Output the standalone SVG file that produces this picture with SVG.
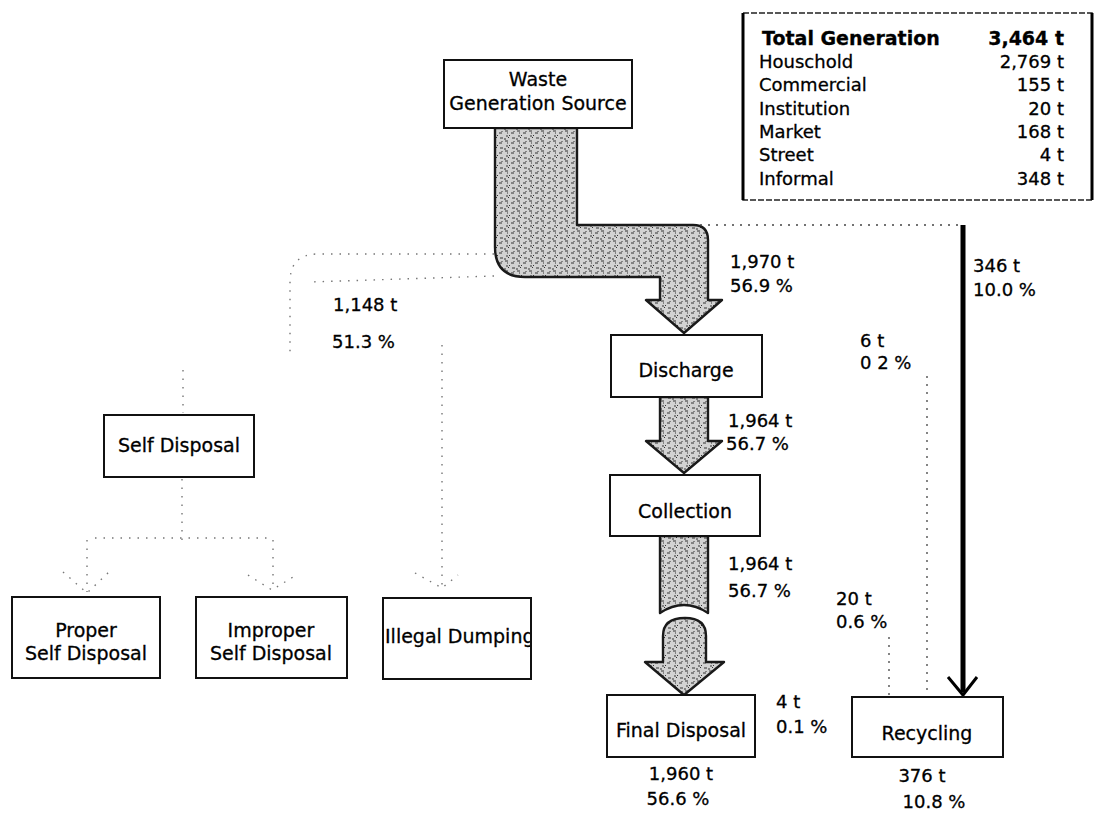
<svg xmlns="http://www.w3.org/2000/svg" width="1098" height="813" viewBox="0 0 1098 813">
<style>
.box{fill:#fff;stroke:#111;stroke-width:2}
.t{font-family:"DejaVu Sans","Liberation Sans",sans-serif;font-size:19px;fill:#000;stroke:#000;stroke-width:0.3}
.lbl{font-family:"DejaVu Sans","Liberation Sans",sans-serif;font-size:18px;fill:#000;stroke:#000;stroke-width:0.3}
.mid{text-anchor:middle}
.end{text-anchor:end}
.flow{fill:url(#stip);stroke:#1a1a1a;stroke-width:2.4;stroke-linejoin:round}
.ghost{fill:none;stroke:#777;stroke-width:1.4;stroke-dasharray:1.5 7}
.dots{fill:none;stroke:#444;stroke-width:1.3;stroke-dasharray:2 6}
</style>
<defs>
<pattern id="stip" width="12" height="10" patternUnits="userSpaceOnUse">
<rect width="12" height="10" fill="#d2d2d2"/>
<path d="M1 1h3M7 3h3M2 6h2M8 8h3M5 5l1 1M10 1v1M0 9h2M4 8l1-1M3 3h1" stroke="#333" stroke-width="1"/>
</pattern>
<clipPath id="clipIll"><rect x="384" y="599" width="146" height="79"/></clipPath>
</defs>

<g id="connectors">
  <!-- main flow: source to discharge -->
  <path class="flow" d="M495 128 L577 128 L577 225 L693 225 Q708 225 708 240 L708 300 L722 300 L684 333 L646 300 L660 300 L660 277 L525 277 Q495 277 495 247 Z"/>
  <!-- discharge to collection -->
  <path class="flow" d="M660 397 L708 397 L708 441 L722 441 L684 473 L646 441 L660 441 Z"/>
  <!-- collection to final disposal (broken) -->
  <path class="flow" d="M660 536 L708 536 L708 613 Q684 597 660 613 Z"/>
  <path class="flow" d="M663 662 L663 636 Q663 618 685 618 Q706 618 706 636 L706 662 L724 662 L684 695 L645 662 Z"/>
  <!-- recycling informal flow -->
  <path class="dots" d="M700 225 L963 225"/>
  <path d="M963 225 L963 692" fill="none" stroke="#000" stroke-width="5"/>
  <path d="M948 677 L963 695 L977 677" fill="none" stroke="#000" stroke-width="3"/>
  <!-- 6 t and 20 t dotted lines -->
  <path class="dots" d="M927 376 L927 697"/>
  <path class="dots" d="M889 637 L889 697"/>
  <!-- ghost flow to self disposal / illegal dumping -->
  <path class="ghost" d="M494 254 L318 254 Q290 254 290 282 L290 356"/>
  <path class="ghost" d="M494 276 L310 282"/>
  <path class="ghost" d="M183 370 L183 413"/>
  <path class="ghost" d="M442 345 L442 588"/>
  <path class="ghost" d="M415 573 L442 588 L458 575"/>
  <!-- self disposal split -->
  <path class="ghost" d="M182 479 L182 540"/>
  <path class="ghost" d="M95 538 L273 538"/>
  <path class="ghost" d="M87 540 L87 592"/>
  <path class="ghost" d="M63 572 L87 593 L110 571"/>
  <path class="ghost" d="M273 540 L273 588"/>
  <path class="ghost" d="M248 575 L272 590 L293 577"/>
</g>

<g id="source">
  <rect class="box" x="444" y="60" width="188" height="68"/>
  <text class="t mid" x="538" y="86">Waste</text>
  <text class="t mid" x="538" y="110">Generation Source</text>
</g>

<g id="totals">
  <rect x="743" y="13" width="349" height="187" fill="#fff" stroke="#222" stroke-width="1.5" stroke-dasharray="6 2"/>
  <path d="M743 13 V200 M1092 13 V200" stroke="#000" stroke-width="3"/>
  <text class="t" x="762" y="45" style="font-weight:bold">Total Generation</text>
  <text class="t end" x="1064" y="45" style="font-weight:bold">3,464 t</text>
  <text class="lbl" x="759" y="68">Houschold</text>
  <text class="lbl end" x="1064" y="68">2,769 t</text>
  <text class="lbl" x="759" y="91">Commercial</text>
  <text class="lbl end" x="1064" y="91">155 t</text>
  <text class="lbl" x="759" y="115">Institution</text>
  <text class="lbl end" x="1064" y="115">20 t</text>
  <text class="lbl" x="759" y="138">Market</text>
  <text class="lbl end" x="1064" y="138">168 t</text>
  <text class="lbl" x="759" y="161">Street</text>
  <text class="lbl end" x="1064" y="161">4 t</text>
  <text class="lbl" x="759" y="185">Informal</text>
  <text class="lbl end" x="1064" y="185">348 t</text>
</g>

<g id="discharge">
  <rect class="box" x="611" y="335" width="151" height="62"/>
  <text class="t mid" x="686" y="377">Discharge</text>
</g>

<g id="collection">
  <rect class="box" x="610" y="475" width="150" height="61"/>
  <text class="t mid" x="685" y="518">Collection</text>
</g>

<g id="final-disposal">
  <rect class="box" x="607" y="695" width="148" height="62"/>
  <text class="t mid" x="681" y="737">Final Disposal</text>
</g>

<g id="recycling">
  <rect class="box" x="852" y="697" width="151" height="60"/>
  <text class="t mid" x="927" y="740">Recycling</text>
</g>

<g id="self-disposal">
  <rect class="box" x="104" y="415" width="150" height="62"/>
  <text class="t mid" x="179" y="452">Self Disposal</text>
</g>

<g id="proper">
  <rect class="box" x="12" y="597" width="148" height="81"/>
  <text class="t mid" x="86" y="637">Proper</text>
  <text class="t mid" x="86" y="660">Self Disposal</text>
</g>

<g id="improper">
  <rect class="box" x="196" y="597" width="151" height="81"/>
  <text class="t mid" x="271" y="637">Improper</text>
  <text class="t mid" x="271" y="660">Self Disposal</text>
</g>

<g id="illegal">
  <rect class="box" x="383" y="598" width="148" height="81"/>
  <text class="t" x="385" y="643" clip-path="url(#clipIll)">Illegal Dumping</text>
</g>

<g id="labels">
  <text class="lbl" x="730" y="268">1,970 t</text>
  <text class="lbl" x="730" y="292">56.9 %</text>
  <text class="lbl" x="333" y="311">1,148 t</text>
  <text class="lbl" x="332" y="348">51.3 %</text>
  <text class="lbl" x="973" y="272">346 t</text>
  <text class="lbl" x="973" y="296">10.0 %</text>
  <text class="lbl" x="860" y="347">6 t</text>
  <text class="lbl" x="860" y="369">0 2 %</text>
  <text class="lbl" x="728" y="427">1,964 t</text>
  <text class="lbl" x="726" y="450">56.7 %</text>
  <text class="lbl" x="728" y="570">1,964 t</text>
  <text class="lbl" x="728" y="597">56.7 %</text>
  <text class="lbl" x="836" y="605">20 t</text>
  <text class="lbl" x="836" y="628">0.6 %</text>
  <text class="lbl" x="776" y="708">4 t</text>
  <text class="lbl" x="776" y="733">0.1 %</text>
  <text class="lbl mid" x="681" y="780">1,960 t</text>
  <text class="lbl mid" x="678" y="805">56.6 %</text>
  <text class="lbl mid" x="922" y="782">376 t</text>
  <text class="lbl mid" x="934" y="808">10.8 %</text>
</g>
</svg>
